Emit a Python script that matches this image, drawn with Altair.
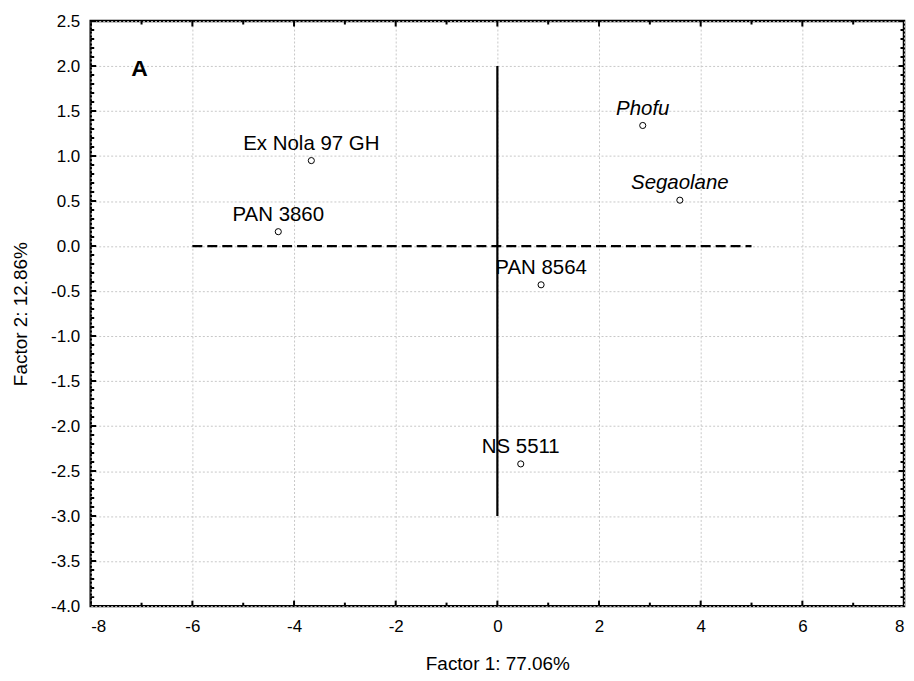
import altair as alt
import pandas as pd

# ---- data ----
cultivars = ["Ex Nola 97 GH", "PAN 3860", "Phofu", "Segaolane", "PAN 8564", "NS 5511"]
factor1 = [-3.66, -4.31, 2.86, 3.59, 0.86, 0.46]
factor2 = [0.95, 0.16, 1.34, 0.51, -0.43, -2.42]
italic = [False, False, True, True, False, False]

# reference lines (x, y, x2, y2)
vline = {"f1": [0.0], "f2": [2.0], "f1b": [0.0], "f2b": [-3.0]}
hline = {"f1": [-6.0], "f2": [0.0], "f1b": [5.0], "f2b": [0.0]}

panel_label = ["A"]
panel_x = [-7.04]
panel_y = [1.97]

x_major = [-8, -6, -4, -2, 0, 2, 4, 6, 8]
x_minor = [-7, -5, -3, -1, 1, 3, 5, 7]
y_major = [-4.0, -3.5, -3.0, -2.5, -2.0, -1.5, -1.0, -0.5, 0.0, 0.5, 1.0, 1.5, 2.0, 2.5]
y_minor = [round(-4.0 + 0.1 * i, 1) for i in range(66) if i % 5 != 0]

X_DOMAIN = [-8, 8]
Y_DOMAIN = [-4.0, 2.5]

FONT = "Liberation Sans"

pts = pd.DataFrame({"cultivar": cultivars, "f1": factor1, "f2": factor2, "italic": italic})

xs = alt.Scale(domain=X_DOMAIN, nice=False, zero=False)
ys = alt.Scale(domain=Y_DOMAIN, nice=False, zero=False)

x_axis = alt.Axis(
    values=x_major, title="Factor 1: 77.06%", grid=True, labelFontSize=17,
    labelExpr="replace(format(datum.value, 'd'), '\u2212', '-')",
    titleFontSize=19, titleFontWeight="normal", labelPadding=12, titlePadding=21,
    labelFont=FONT, titleFont=FONT, labelColor="black", titleColor="black",
)
y_axis = alt.Axis(
    values=y_major, title="Factor 2: 12.86%", grid=True, labelFontSize=17,
    labelExpr="replace(format(datum.value, '.1f'), '\u2212', '-')",
    titleFontSize=19, titleFontWeight="normal", labelPadding=11, titlePadding=20,
    labelFont=FONT, titleFont=FONT, labelColor="black", titleColor="black",
)


def X(field):
    return alt.X(field, scale=xs, axis=x_axis)


def Y(field):
    return alt.Y(field, scale=ys, axis=y_axis)


points = alt.Chart(pts).mark_point(
    shape="circle", size=38, filled=False, color="black", strokeWidth=1, opacity=1
).encode(x=X("f1:Q"), y=Y("f2:Q"))

labels_normal = alt.Chart(pts).transform_filter("!datum.italic").mark_text(
    font=FONT, fontSize=20.5, color="black", dy=-11, baseline="alphabetic", align="center"
).encode(x=X("f1:Q"), y=Y("f2:Q"), text="cultivar:N")

labels_italic = alt.Chart(pts).transform_filter("datum.italic").mark_text(
    font=FONT, fontSize=20.5, fontStyle="italic", color="black", dy=-11, baseline="alphabetic", align="center"
).encode(x=X("f1:Q"), y=Y("f2:Q"), text="cultivar:N")

vrule = alt.Chart(pd.DataFrame(vline)).mark_rule(color="black", strokeWidth=2.2).encode(
    x=X("f1:Q"), y=Y("f2:Q"), y2="f2b:Q"
)
hrule = alt.Chart(pd.DataFrame(hline)).mark_rule(color="black", strokeWidth=2.2, strokeDash=[10, 5]).encode(
    x=X("f1:Q"), x2="f1b:Q", y=Y("f2:Q")
)

panel = alt.Chart(pd.DataFrame({"t": panel_label, "f1": panel_x, "f2": panel_y})).mark_text(
    font=FONT, fontSize=23, fontWeight="bold", color="black", baseline="middle", align="center"
).encode(x=X("f1:Q"), y=Y("f2:Q"), text="t:N")


def xticks(vals, ypos, size):
    return alt.Chart(pd.DataFrame({"f1": vals, "f2": [ypos] * len(vals)})).mark_tick(
        orient="vertical", size=size, thickness=2, color="black", clip=True, opacity=1
    ).encode(x=X("f1:Q"), y=Y("f2:Q"))


def yticks(vals, xpos, size):
    return alt.Chart(pd.DataFrame({"f2": vals, "f1": [xpos] * len(vals)})).mark_tick(
        orient="horizontal", size=size, thickness=2, color="black", clip=True, opacity=1
    ).encode(x=X("f1:Q"), y=Y("f2:Q"))


ticks = [
    xticks(x_major, Y_DOMAIN[0], 11), xticks(x_minor, Y_DOMAIN[0], 7),
    xticks(x_major, Y_DOMAIN[1], 11), xticks(x_minor, Y_DOMAIN[1], 7),
    yticks(y_major, X_DOMAIN[0], 11), yticks(y_minor, X_DOMAIN[0], 7),
    yticks(y_major, X_DOMAIN[1], 11), yticks(y_minor, X_DOMAIN[1], 7),
]

chart = alt.layer(points, hrule, vrule, labels_normal, labels_italic, panel, *ticks).properties(
    width=816, height=587,
    autosize=alt.AutoSizeParams(type="none"),
    padding={"left": 83, "top": 12, "right": 2, "bottom": 72},
    background="white",
).configure_view(
    stroke="black", strokeWidth=2.5
).configure_axis(
    domain=False, ticks=False, gridColor="#c8c8c8", gridDash=[2, 2], gridWidth=1
)

chart.save("out.html", embed_options={"renderer": "svg", "actions": False})
